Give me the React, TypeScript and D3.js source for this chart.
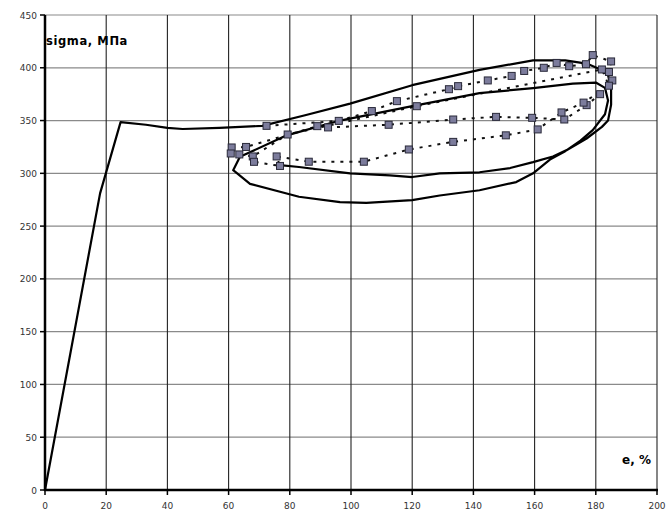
import * as d3 from "d3";

// model curve (solid), e in %, sigma in MPa
const modelE = [0, 18, 24.7, 33, 40, 45, 57, 71, 85, 99.7, 120, 142, 159.5, 170, 177, 181, 184, 185, 185, 184, 182, 177, 170, 165, 159.5, 154, 142, 129, 120, 105, 96.4, 83, 67, 61.5, 63.7, 79, 96.4, 120, 142, 159.5, 172.5, 180, 183, 184, 183, 179, 175, 170.5, 166, 159.5, 152, 142, 129, 120, 112.7, 99.7, 83, 76.8];
const modelS = [0, 281, 348.5, 346, 343, 342, 343, 345, 355, 366, 383.5, 398, 407, 407, 404, 399, 393, 381, 365, 350, 344, 333, 321, 313, 300, 291.7, 284, 279, 274.6, 272, 272.7, 277.8, 290, 303, 315.6, 336, 350, 363.6, 376, 380.7, 385, 386, 381, 369, 356, 341, 331, 322, 316, 310.6, 305, 301, 300, 296.5, 298, 300, 306, 307.8];

// experiment (squares, dashed)
const expE = [72.4, 96, 106.8, 115, 132, 135, 144.7, 152.5, 156.6, 163, 167.2, 171.3, 176.8, 179, 185, 184.3, 185.4, 181.4, 177, 169.7, 159.2, 147.4, 133.4, 112.3, 92.5, 89, 65.7, 61, 60.7, 63.5, 67.9, 79.3, 121.5, 182, 184.3, 176, 168.8, 161, 150.6, 133.4, 118.9, 104.2, 86.2, 75.7, 76.8, 68.3];
const expS = [345, 349.7, 359, 368.4, 379.7, 382.6, 388, 392.3, 397, 400, 404.6, 401.5, 403.4, 412, 406, 396, 388, 375, 364.6, 351, 352.6, 353.5, 351, 346, 343.5, 344.7, 325, 324.5, 318.8, 317.9, 316, 336.8, 363.6, 398.4, 383, 367, 357.7, 341.6, 336, 329.8, 322.6, 311, 311, 316, 307, 310.9];

const xTicks = [0, 20, 40, 60, 80, 100, 120, 140, 160, 180, 200];
const yTicks = [0, 50, 100, 150, 200, 250, 300, 350, 400, 450];

export default function App() {
  const width = 669;
  const height = 512;
  const x = d3.scaleLinear([0, 200], [45, 657]);
  const y = d3.scaleLinear([0, 450], [490, 15]);

  const model = modelE.map((e, i) => [e, modelS[i]] as [number, number]);
  const exp = expE.map((e, i) => [e, expS[i]] as [number, number]);
  const line = d3.line<[number, number]>(d => x(d[0]), d => y(d[1]));

  const font = "'DejaVu Sans', Verdana, sans-serif";

  return (
    <svg
      width={width}
      height={height}
      style={{ position: "absolute", left: 0, top: 0, background: "#fff" }}
    >
      <rect width={width} height={height} fill="#fff" />
      {/* grid */}
      <g>
        {yTicks.map(t => (
          <line key={"h" + t} x1={x(0)} x2={x(200)} y1={y(t)} y2={y(t)} stroke="#8a8a8a" strokeWidth={1.2} />
        ))}
        {xTicks.map(t => (
          <line key={"v" + t} x1={x(t)} x2={x(t)} y1={y(0)} y2={y(450)} stroke="#222" strokeWidth={1.1} />
        ))}
      </g>
      {/* axes */}
      <line x1={x(0)} x2={x(0)} y1={y(0) + 1} y2={y(450)} stroke="#000" strokeWidth={2.5} />
      <line x1={x(0) - 1} x2={x(200) + 1} y1={y(0)} y2={y(0)} stroke="#000" strokeWidth={2.5} />
      {yTicks.map(t => (
        <g key={"yt" + t}>
          <line x1={x(0) - 5} x2={x(0)} y1={y(t)} y2={y(t)} stroke="#000" strokeWidth={1.5} />
          <text x={x(0) - 8} y={y(t) + 3.5} textAnchor="end" fontSize={9} fontFamily={font} fill="#333">
            {t}
          </text>
        </g>
      ))}
      {xTicks.map(t => (
        <g key={"xt" + t}>
          <line x1={x(t)} x2={x(t)} y1={y(0)} y2={y(0) + 5} stroke="#000" strokeWidth={1.5} />
          <text x={x(t)} y={509} textAnchor="middle" fontSize={9} fontFamily={font} fill="#333">
            {t}
          </text>
        </g>
      ))}
      {/* experiment */}
      <path d={line(exp) ?? ""} fill="none" stroke="#111" strokeWidth={2} strokeDasharray="3,6" />
      {/* model */}
      <path d={line(model) ?? ""} fill="none" stroke="#000" strokeWidth={2.2} strokeLinejoin="round" />
      <g fill="#7c7c9c" stroke="#2a2a3a" strokeWidth={1}>
        {exp.map((d, i) => (
          <rect key={i} x={x(d[0]) - 3.5} y={y(d[1]) - 3.5} width={7} height={7} />
        ))}
      </g>
      {/* labels */}
      <text x={46} y={45} fontSize={11.5} fontWeight="bold" fontFamily={font} letterSpacing={0.6} fill="#000">
        sigma, MПa
      </text>
      <text x={622} y={464} fontSize={12} fontWeight="bold" fontFamily={font} fill="#000">
        e, %
      </text>
    </svg>
  );
}
